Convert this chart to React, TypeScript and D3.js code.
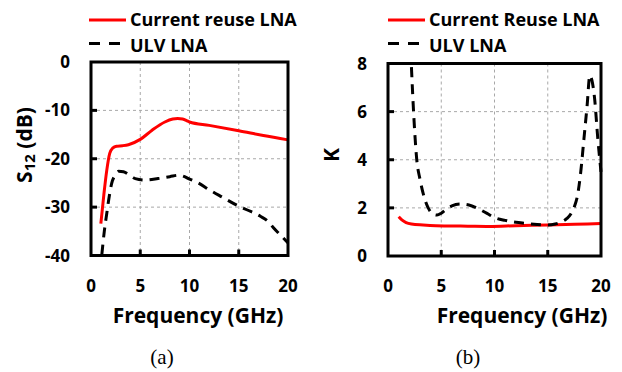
import React from "react";
import * as d3 from "d3";

// S12 (dB) vs frequency (GHz)
const s12CrFreq = [1.0, 1.3, 1.6, 1.9, 2.2, 2.6, 3.2, 3.8, 5.0, 6.2, 7.5, 8.3, 8.8, 9.3, 9.7, 10.0, 12.0, 15.0, 17.5, 20.0];
const s12CrVal = [-33.4, -27.5, -22.4, -18.9, -17.8, -17.4, -17.3, -17.1, -16.0, -14.1, -12.4, -11.8, -11.7, -11.8, -12.1, -12.4, -13.1, -14.2, -15.2, -16.1];

const s12UlvFreq = [1.1, 1.35, 1.6, 1.85, 2.1, 2.45, 2.8, 3.3, 4.0, 4.5, 5.5, 6.8, 8.0, 8.9, 9.5, 9.9, 10.9, 12.0, 13.3, 15.0, 16.0, 17.2, 18.0, 18.5, 19.2, 20.0];
const s12UlvVal = [-39.8, -35.0, -31.3, -27.8, -25.1, -23.4, -22.6, -22.7, -23.5, -24.1, -24.4, -24.1, -23.7, -23.4, -23.7, -24.1, -25.0, -26.4, -27.9, -29.8, -30.7, -31.9, -33.0, -34.2, -35.7, -37.4];

// Stability factor K vs frequency (GHz)
const kCrFreq = [1.0, 1.3, 1.7, 2.2, 3.3, 4.5, 5.5, 7.5, 9.5, 12.0, 15.0, 17.5, 20.0];
const kCrVal = [1.63, 1.5, 1.39, 1.33, 1.29, 1.26, 1.25, 1.24, 1.23, 1.26, 1.29, 1.32, 1.35];

const kUlvFreq = [2.2, 2.4, 2.7, 3.0, 3.3, 3.8, 4.2, 4.6, 5.0, 5.4, 6.0, 6.8, 7.6, 8.4, 9.3, 10.0, 11.0, 12.0, 12.8, 14.0, 15.0, 15.7, 16.3, 16.8, 17.2, 17.5, 17.8, 18.1, 18.4, 18.7, 18.95, 19.15, 19.4, 19.7, 20.0];
const kUlvVal = [7.85, 6.0, 4.0, 3.2, 2.6, 1.98, 1.75, 1.7, 1.78, 1.92, 2.08, 2.16, 2.12, 1.98, 1.77, 1.6, 1.48, 1.4, 1.36, 1.31, 1.29, 1.33, 1.42, 1.56, 1.77, 2.05, 2.53, 3.5, 4.88, 6.27, 7.5, 7.3, 6.54, 4.88, 3.5];

const xTicks = [0, 5, 10, 15, 20];
const s12Ticks = [0, -10, -20, -30, -40];
const kTicks = [0, 2, 4, 6, 8];

const legendLeft = ["Current reuse LNA", "ULV LNA"];
const legendRight = ["Current Reuse LNA", "ULV LNA"];

const FONT = "'Open Sans', Lato, sans-serif";
const RED = "#ff0000";
const GRID = "#a8a8a8";

type Series = { x: number[]; y: number[]; color: string; dash?: string };

interface PanelProps {
  left: number;
  right: number;
  top: number;
  bottom: number;
  yDomain: [number, number];
  yTicks: number[];
  series: Series[];
  legend: string[];
  legendX: number;
  xTitleX: number;
  caption: string;
  captionX: number;
  yTitle: React.ReactNode;
  yTitleX: number;
  yTitleY: number;
}

function Panel(p: PanelProps) {
  const x = d3.scaleLinear().domain([0, 20]).range([p.left, p.right]);
  const y = d3.scaleLinear().domain(p.yDomain).range([p.bottom, p.top]);
  const line = d3
    .line<[number, number]>()
    .x((d) => x(d[0]))
    .y((d) => y(d[1]))
    .curve(d3.curveMonotoneX);

  const innerY = p.yTicks.filter((t) => t !== p.yDomain[0] && t !== p.yDomain[1]);
  const innerX = xTicks.filter((t) => t !== 0 && t !== 20);

  return (
    <g>
      {/* grid */}
      {innerY.map((t) => (
        <line key={"gy" + t} x1={p.left} x2={p.right} y1={y(t)} y2={y(t)} stroke={GRID} strokeWidth={1} strokeDasharray="3,3" />
      ))}
      {innerX.map((t) => (
        <line key={"gx" + t} x1={x(t)} x2={x(t)} y1={p.top} y2={p.bottom} stroke={GRID} strokeWidth={1} strokeDasharray="3,3" />
      ))}
      {/* inward tick marks */}
      {innerY.map((t) => (
        <line key={"ty" + t} x1={p.left} x2={p.left + 6} y1={y(t)} y2={y(t)} stroke="#000" strokeWidth={3} />
      ))}
      {innerX.map((t) => (
        <line key={"tx" + t} x1={x(t)} x2={x(t)} y1={p.bottom} y2={p.bottom - 6} stroke="#000" strokeWidth={3} />
      ))}
      {/* data */}
      {p.series.map((s, i) => (
        <path
          key={"s" + i}
          d={line(s.x.map((v, j) => [v, s.y[j]] as [number, number])) || ""}
          fill="none"
          stroke={s.color}
          strokeWidth={3}
          strokeDasharray={s.dash}
        />
      ))}
      {/* frame */}
      <rect x={p.left} y={p.top} width={p.right - p.left} height={p.bottom - p.top} fill="none" stroke="#000" strokeWidth={3} />
      {/* tick labels */}
      {p.yTicks.map((t) => (
        <text key={"ly" + t} x={p.left - 21} y={y(t) + 6} textAnchor="end" fontFamily={FONT} fontWeight="bold" fontSize={17}>
          {t}
        </text>
      ))}
      {xTicks.map((t) => (
        <text key={"lx" + t} x={x(t)} y={291.5} textAnchor="middle" fontFamily={FONT} fontWeight="bold" fontSize={17}>
          {t}
        </text>
      ))}
      <text x={p.xTitleX} y={322.5} textAnchor="middle" fontFamily={FONT} fontWeight="bold" fontSize={21}>
        Frequency (GHz)
      </text>
      <text
        transform={`translate(${p.yTitleX},${p.yTitleY}) rotate(-90)`}
        textAnchor="middle"
        fontFamily={FONT}
        fontWeight="bold"
        fontSize={21}
      >
        {p.yTitle}
      </text>
      {/* legend */}
      <line x1={p.legendX} x2={p.legendX + 37} y1={20} y2={20} stroke={RED} strokeWidth={3} />
      <line x1={p.legendX} x2={p.legendX + 37} y1={43.5} y2={43.5} stroke="#000" strokeWidth={3} strokeDasharray="11,9" />
      <text x={p.legendX + 41} y={26} fontFamily={FONT} fontWeight="bold" fontSize={18}>
        {p.legend[0]}
      </text>
      <text x={p.legendX + 41} y={51.5} fontFamily={FONT} fontWeight="bold" fontSize={18}>
        {p.legend[1]}
      </text>
      <text x={p.captionX} y={364} textAnchor="middle" fontFamily="'Liberation Serif', 'Times New Roman', serif" fontSize={21}>
        {p.caption}
      </text>
    </g>
  );
}

export default function App() {
  return (
    <svg width={622} height={372} style={{ position: "absolute", left: 0, top: 0, background: "#fff" }}>
      <Panel
        left={91}
        right={288}
        top={62}
        bottom={255.5}
        yDomain={[-40, 0]}
        yTicks={s12Ticks}
        series={[
          { x: s12CrFreq, y: s12CrVal, color: RED },
          { x: s12UlvFreq, y: s12UlvVal, color: "#000", dash: "10,7" },
        ]}
        legend={legendLeft}
        legendX={89}
        xTitleX={198}
        caption="(a)"
        captionX={162}
        yTitle={
          <>
            S<tspan fontSize={15} dy={3}>12</tspan>
            <tspan dy={-3}> (dB)</tspan>
          </>
        }
        yTitleX={32}
        yTitleY={145}
      />
      <Panel
        left={388}
        right={601}
        top={63.5}
        bottom={256}
        yDomain={[0, 8]}
        yTicks={kTicks}
        series={[
          { x: kCrFreq, y: kCrVal, color: RED },
          { x: kUlvFreq, y: kUlvVal, color: "#000", dash: "10,7" },
        ]}
        legend={legendRight}
        legendX={388}
        xTitleX={522}
        caption="(b)"
        captionX={468}
        yTitle={"K"}
        yTitleX={339}
        yTitleY={155}
      />
    </svg>
  );
}
